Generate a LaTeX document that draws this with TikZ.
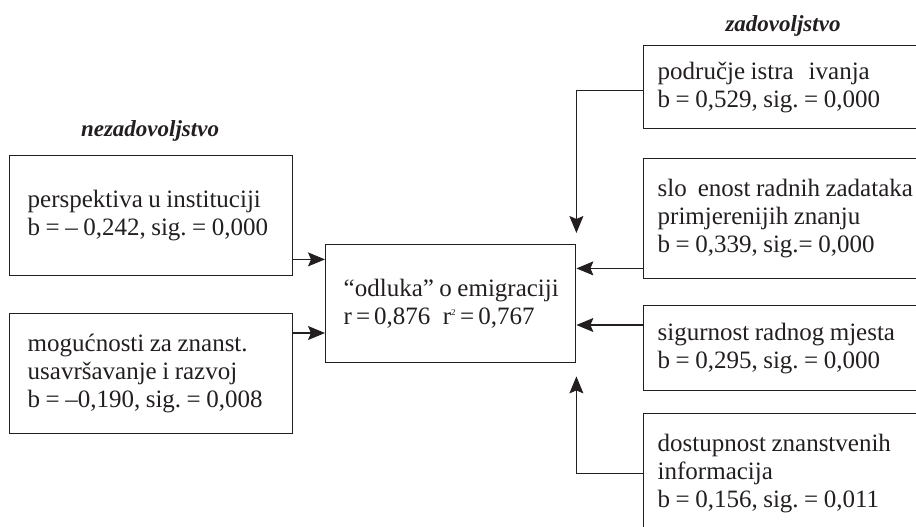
\documentclass[tikz,border=0pt]{standalone}
\usepackage{fontspec}
\setmainfont{Liberation Serif}
\usetikzlibrary{arrows.meta}
\definecolor{ink}{HTML}{231F20}
\frenchspacing
\newcommand{\mytightsp}{\spaceskip=0.22em\relax}
\begin{document}
\begin{tikzpicture}[x=1pt,y=-1pt,
  box/.style={draw=ink, line width=1.4pt, rectangle, anchor=north west, align=left,
    inner ysep=0pt, text=ink, font=\fontsize{25}{28}\selectfont,
    execute at begin node=\mytightsp},
  lbox/.style={box, inner xsep=18pt, text width=247pt, minimum height=120pt},
  rbox/.style={box, inner xsep=14pt, text width=300pt},
  arr/.style={draw=ink, line width=1.1pt, -{Stealth[length=17pt,width=14pt,inset=3pt]}},
  lab/.style={text=ink, font=\fontsize{23}{25}\selectfont\bfseries\itshape}]
\useasboundingbox (0,0) rectangle (916,527);
\clip (0,0) rectangle (916,527);

% labels
\node[lab] (nez) at (150,131) {nezadovoljstvo};
\node[lab] (zad) at (783,26) {zadovoljstvo};

% left boxes
\node[lbox] (L1) at (9,155) {\mbox{perspektiva u instituciji}\\\mbox{b = – 0,242, sig. = 0,000}};
\node[lbox] (L2) at (9,313) {\mbox{mogućnosti za znanst.}\\\mbox{usavršavanje i razvoj}\\\mbox{b = –0,190, sig. = 0,008}};

% centre box
\node[box, inner xsep=18pt, text width=214pt, minimum height=118pt] (C) at (325,244)
  {\mbox{“odluka” o emigraciji}\\\mbox{r\hspace{0.16em}=\hspace{0.16em}0,876\hspace{0.5em}r\textsuperscript{\fontsize{9}{9}\selectfont 2}\hspace{0.16em}=\hspace{0.16em}0,767}};

% right boxes
\node[rbox, minimum height=83pt] (R1) at (643,45) {\mbox{područje istra\hspace{15pt}ivanja}\\\mbox{b = 0,529, sig. = 0,000}};
\node[rbox, minimum height=120pt] (R2) at (643,158) {\mbox{slo\hspace{11pt}enost radnih zadataka}\\\mbox{primjerenijih znanju}\\\mbox{b = 0,339, sig.= 0,000}};
\node[rbox, minimum height=85pt] (R3) at (643,305) {\mbox{sigurnost radnog mjesta}\\\mbox{b = 0,295, sig. = 0,000}};
\node[rbox, minimum height=120pt] (R4) at (643,413) {\mbox{dostupnost znanstvenih}\\\mbox{informacija}\\\mbox{b = 0,156, sig. = 0,011}};

% connectors
\coordinate (a1) at ([yshift=17pt]L1.south east);
\draw[arr] (a1) -- (a1 -| C.west);
\coordinate (a2) at ([yshift=-20pt]L2.north east);
\draw[arr] (a2) -- (a2 -| C.west);

\draw[arr] ([yshift=-3pt]R1.west) -| ([yshift=11pt]C.north east);
\coordinate (b2) at ([yshift=11pt]R2.south west);
\draw[arr] (b2) -- (b2 -| C.east);
\coordinate (b3) at ([yshift=-20pt]R3.north west);
\draw[arr] (b3) -- (b3 -| C.east);
\draw[arr] (R4.west) -| ([yshift=-13pt]C.south east);
\end{tikzpicture}
\end{document}
